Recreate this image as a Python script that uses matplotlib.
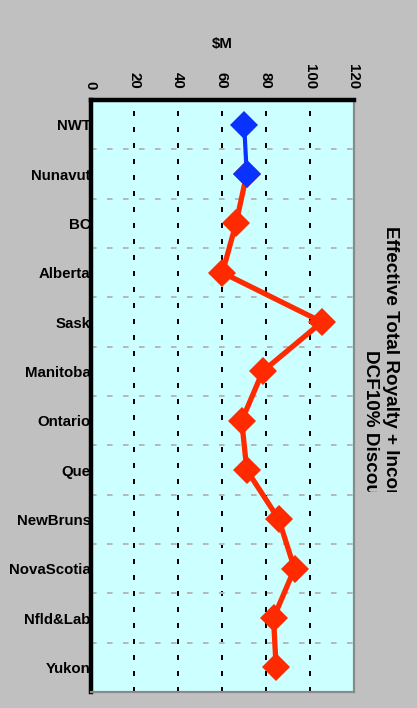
import matplotlib
matplotlib.use("Agg")
import matplotlib.pyplot as plt
from matplotlib.patches import Rectangle

# Provinces / territories, top to bottom
regions = ["NWT", "Nunavut", "BC", "Alberta", "Sask", "Manitoba",
           "Ontario", "Que", "NewBruns", "NovaScotia", "Nfld&Lab", "Yukon"]

# Effective total royalty + income tax, DCF 10% discounted ($M)
north_values = [70.1, 71.3]
south_values = [71.3, 66.4, 60.2, 105.6, 78.6, 69.0, 71.3, 85.9, 93.1, 83.5, 84.7]

value_ticks = [0, 20, 40, 60, 80, 100, 120]
value_label = "$M"
title_lines = ["Effective Total Royalty + Income Tax", "DCF10% Discounted"]

plt.rcParams["font.family"] = ["Liberation Sans", "DejaVu Sans"]
plt.rcParams["font.weight"] = "bold"

W, H, DPI = 417, 708, 100
BG = "#C0C0C0"
fig = plt.figure(figsize=(W / DPI, H / DPI), dpi=DPI, facecolor=BG)
ax = fig.add_axes([90.5 / W, 1 - 692 / H, (353.5 - 90.5) / W, (692 - 100) / H])
ax.set_facecolor("#CCFFFF")

pos = list(range(len(regions)))
south_pos = pos[1:]
north_pos = pos[:2]

ax.plot(south_values, south_pos, color="#FF2A00", lw=3.8, marker="D",
        ms=14.5, markeredgewidth=0, zorder=3, clip_on=False)
ax.plot(north_values, north_pos, color="#0A32FF", lw=3.0, marker="D",
        ms=14.5, markeredgewidth=0, zorder=4, clip_on=False)

ax.set_xlim(value_ticks[0], value_ticks[-1])
ax.set_ylim(len(regions) - 0.5, -0.5)

ax.xaxis.tick_top()
ax.xaxis.set_label_position("top")
ax.set_xticks(value_ticks)
ax.set_xticklabels([str(v) for v in value_ticks], rotation=-90,
                   fontsize=10.8, fontweight="bold")
ax.tick_params(axis="x", length=0, pad=8)
ax.set_xlabel(value_label, fontsize=10.8, fontweight="bold", labelpad=11)

ax.set_yticks(pos)
ax.set_yticklabels(regions, fontsize=10.8, fontweight="bold")
ax.set_yticks([p + 0.5 for p in pos[:-1]], minor=True)
ax.tick_params(axis="y", which="both", length=0, pad=0)

# vertical value gridlines (black, dotted), skipping the frame edges
ax.grid(axis="x", which="major", color="black", lw=1.44,
        linestyle=(0, (2.5, 5.5)))
xgl = ax.get_xgridlines()
xgl[0].set_visible(False)
xgl[-1].set_visible(False)
# horizontal category separators (gray, dashed)
ax.grid(axis="y", which="minor", color="#B8B8B8", lw=1.44,
        linestyle=(0, (2.8, 5.2)))
ax.grid(axis="y", which="major", visible=False)
ax.set_axisbelow(True)

for side in ("top", "left"):
    ax.spines[side].set_linewidth(3.2)
    ax.spines[side].set_color("black")
for side in ("right", "bottom"):
    ax.spines[side].set_linewidth(1.6)
    ax.spines[side].set_color("#8A8A8A")
ax.spines["top"].set_capstyle("projecting")

# rotated two-line title on the right; its frame cuts it off lower down
fig.text(390 / W, 1 - 226 / H, title_lines[0], rotation=-90,
         rotation_mode="anchor", ha="left", va="center",
         fontsize=13.6, fontweight="bold", zorder=3)
fig.text(370 / W, 1 - 350 / H, title_lines[1], rotation=-90,
         rotation_mode="anchor", ha="left", va="center",
         fontsize=13.6, fontweight="bold", zorder=3)
fig.add_artist(Rectangle((358 / W, 0), (W - 358) / W, (H - 492) / H,
                         transform=fig.transFigure, facecolor=BG,
                         edgecolor="none", zorder=5))

fig.savefig("out.png", dpi=DPI, facecolor=fig.get_facecolor())
